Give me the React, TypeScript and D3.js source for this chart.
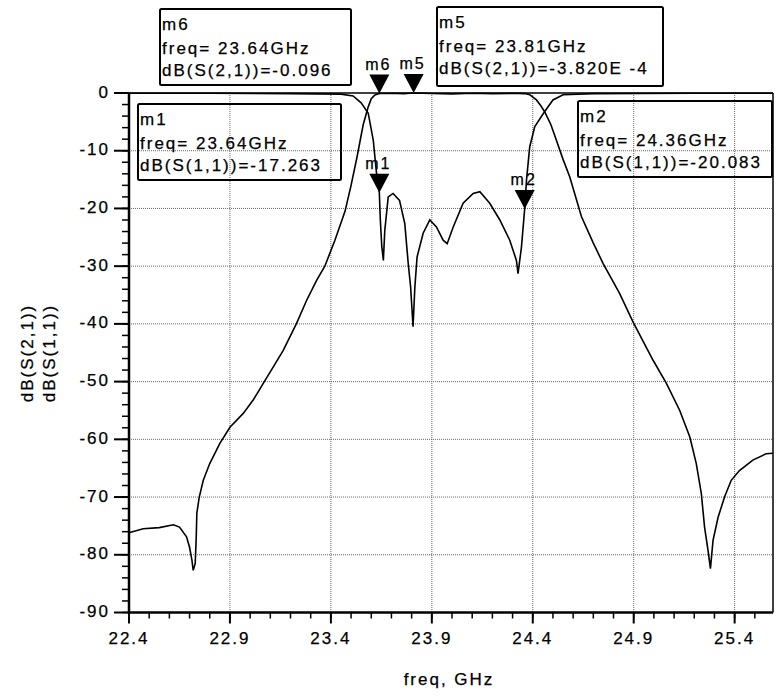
import React from 'react';
import * as d3 from 'd3';

// S21 trace (transmission)
const s21Freq = [22.4, 22.47, 22.55, 22.62, 22.65, 22.685, 22.7, 22.712, 22.718, 22.728, 22.733, 22.736, 22.748, 22.768, 22.8, 22.85, 22.9, 22.966, 23.015, 23.065, 23.114, 23.164, 23.23, 23.28, 23.33, 23.37, 23.42, 23.47, 23.5, 23.53, 23.56, 23.585, 23.6, 23.618, 23.64, 23.7, 23.76, 23.81, 23.9, 24.0, 24.1, 24.2, 24.3, 24.36, 24.385, 24.418, 24.44, 24.46, 24.49, 24.517, 24.55, 24.583, 24.641, 24.7, 24.748, 24.83, 24.897, 24.996, 25.062, 25.128, 25.178, 25.21, 25.235, 25.251, 25.268, 25.28, 25.293, 25.318, 25.35, 25.383, 25.424, 25.49, 25.556, 25.59];
const s21Db = [-76.2, -75.5, -75.3, -74.8, -75.2, -76.9, -78.7, -81.0, -82.7, -81.5, -77, -72.8, -70, -67.1, -64.2, -60.7, -57.9, -55.5, -53.2, -50.3, -47.5, -44.6, -39.9, -35.9, -32.4, -30, -25.5, -20.5, -16, -11, -5.5, -2.4, -1.0, -0.35, -0.096, -0.05, -0.1, -0.0004, -0.08, -0.15, -0.05, -0.1, -0.05, -0.1, -0.3, -1.2, -2.2, -3.3, -5.5, -8.2, -11.5, -14.5, -21.4, -26, -29.5, -34.7, -39.7, -46.3, -50.3, -55, -59.6, -64.2, -69.4, -75.2, -79.2, -82.4, -77.5, -73.5, -70, -67.1, -65.4, -63.6, -62.5, -62.4];

// S11 trace (reflection)
const s11Freq = [22.4, 22.8, 23.2, 23.45, 23.51, 23.55, 23.585, 23.61, 23.626, 23.64, 23.645, 23.652, 23.66, 23.667, 23.684, 23.708, 23.74, 23.766, 23.783, 23.795, 23.807, 23.816, 23.827, 23.857, 23.89, 23.923, 23.956, 23.976, 24.006, 24.055, 24.105, 24.138, 24.187, 24.237, 24.286, 24.319, 24.327, 24.344, 24.36, 24.369, 24.385, 24.41, 24.459, 24.5, 24.55, 24.7, 25.2, 25.59];
const s11Db = [-0.05, -0.05, -0.1, -0.2, -0.5, -1.7, -3.5, -8.2, -13.9, -17.263, -22, -26.5, -29, -23.8, -18, -17.4, -18.6, -22.6, -29.5, -33.6, -40.5, -33.6, -28.4, -24.3, -22, -23.2, -25.5, -26.1, -23.2, -19.1, -17.4, -17.1, -19.1, -22, -25.5, -29, -31.3, -26.7, -20.083, -15.1, -9.3, -5.8, -3.2, -1.2, -0.3, -0.1, -0.05, -0.05];

const freqTicks = [22.4, 22.9, 23.4, 23.9, 24.4, 24.9, 25.4];
const dbTicks = [0, -10, -20, -30, -40, -50, -60, -70, -80, -90];

// markers
const markerNames = ['m6', 'm5', 'm1', 'm2'];
const markerFreq = [23.64, 23.81, 23.64, 24.36];
const markerDb = [-0.096, -3.82e-4, -17.263, -20.083];
const markerTrace = ['dB(S(2,1))', 'dB(S(2,1))', 'dB(S(1,1))', 'dB(S(1,1))'];
const markerReadout = ['-0.096', '-3.820E -4', '-17.263', '-20.083'];

// readout box placement (pixels)
const boxes = [
  { x: 160, y: 9, w: 191, h: 76 },
  { x: 437, y: 7, w: 226, h: 79 },
  { x: 138, y: 104, w: 203, h: 76 },
  { x: 578, y: 101, w: 194, h: 76 },
];

const font = "'Liberation Sans', Arial, sans-serif";

export default function App() {
  const left = 129, right = 773, top = 93, bottom = 612.5;

  const x = d3.scaleLinear().domain([22.4, 25.59]).range([left, right]);
  const y = d3.scaleLinear().domain([-90, 0]).range([bottom, top]);

  const line = d3.line<[number, number]>()
    .x(d => x(d[0]))
    .y(d => y(d[1]));

  const s21 = s21Freq.map((f, i) => [f, s21Db[i]] as [number, number]);
  const s11 = s11Freq.map((f, i) => [f, s11Db[i]] as [number, number]);

  const xMinor = d3.range(0, 32).map(i => 22.4 + i * 0.1).filter(v => v <= 25.59);
  const yMinor = d3.range(0, 46).map(i => -i * 2);

  const txt = { fontFamily: font, fontSize: 17, letterSpacing: 2, fill: '#000', stroke: '#000', strokeWidth: 0.25 };

  return (
    <svg width={778} height={696} style={{ position: 'absolute', left: 0, top: 0, background: '#fff' }}>
      {/* grid */}
      {freqTicks.slice(1).map(t => (
        <line key={'gx' + t} x1={x(t)} x2={x(t)} y1={top} y2={bottom}
          stroke="#666" strokeWidth={1} strokeDasharray="1,1" />
      ))}
      {dbTicks.slice(1, -1).map(t => (
        <line key={'gy' + t} x1={left} x2={right} y1={y(t)} y2={y(t)}
          stroke="#666" strokeWidth={1} strokeDasharray="1,1" />
      ))}

      {/* frame */}
      <line x1={left} x2={right} y1={top} y2={top} stroke="#000" strokeWidth={1.5} />
      <line x1={right} x2={right} y1={top} y2={bottom} stroke="#000" strokeWidth={1.5} />
      <line x1={left} x2={left} y1={top} y2={bottom + 1} stroke="#000" strokeWidth={2.5} />
      <line x1={left} x2={right} y1={bottom} y2={bottom} stroke="#000" strokeWidth={2.5} />

      {/* ticks */}
      {yMinor.map(t => (
        <line key={'ym' + t} x1={left - 7} x2={left} y1={y(t)} y2={y(t)} stroke="#000" strokeWidth={1.5} />
      ))}
      {dbTicks.map(t => (
        <line key={'yM' + t} x1={left - 15} x2={left} y1={y(t)} y2={y(t)} stroke="#000" strokeWidth={2} />
      ))}
      {xMinor.map(t => (
        <line key={'xm' + t} x1={x(t)} x2={x(t)} y1={bottom} y2={bottom + 6} stroke="#000" strokeWidth={1.5} />
      ))}
      {freqTicks.map(t => (
        <line key={'xM' + t} x1={x(t)} x2={x(t)} y1={bottom} y2={bottom + 11} stroke="#000" strokeWidth={2} />
      ))}

      {/* tick labels */}
      {dbTicks.map(t => (
        <text key={'yl' + t} x={110} y={y(t) + 4.5} textAnchor="end" {...txt}>{t}</text>
      ))}
      {freqTicks.map(t => (
        <text key={'xl' + t} x={x(t)} y={644} textAnchor="middle" {...txt}>{t.toFixed(1)}</text>
      ))}

      {/* axis titles */}
      <text x={449} y={685} textAnchor="middle" {...txt}>freq, GHz</text>
      <text transform="translate(33,353) rotate(-90)" textAnchor="middle" {...txt}>dB(S(2,1))</text>
      <text transform="translate(55,353) rotate(-90)" textAnchor="middle" {...txt}>dB(S(1,1))</text>

      {/* traces */}
      <path d={line(s21) || ''} fill="none" stroke="#000" strokeWidth={1.6} />
      <path d={line(s11) || ''} fill="none" stroke="#000" strokeWidth={1.6} />

      {/* marker triangles */}
      {markerNames.map((m, i) => {
        const px = x(markerFreq[i]);
        const py = y(markerDb[i]);
        return (
          <g key={m}>
            <path d={`M${px - 10},${py - 19}L${px + 10},${py - 19}L${px},${py}Z`} fill="#000" />
            <text x={px - 1} y={py - 24} textAnchor="middle" {...txt} fontSize={16}>{m}</text>
          </g>
        );
      })}

      {/* readout boxes */}
      {boxes.map((b, i) => (
        <g key={'b' + i}>
          <rect x={b.x} y={b.y} width={b.w} height={b.h} rx={1.5} fill="none" stroke="#000" strokeWidth={2} />
          <text x={b.x + 2} y={b.y + 21} {...txt}>{markerNames[i]}</text>
          <text x={b.x + 2} y={b.y + 45} {...txt}>{'freq= ' + markerFreq[i].toFixed(2) + 'GHz'}</text>
          <text x={b.x + 2} y={b.y + 67} {...txt}>{markerTrace[i] + '=' + markerReadout[i]}</text>
        </g>
      ))}
    </svg>
  );
}
